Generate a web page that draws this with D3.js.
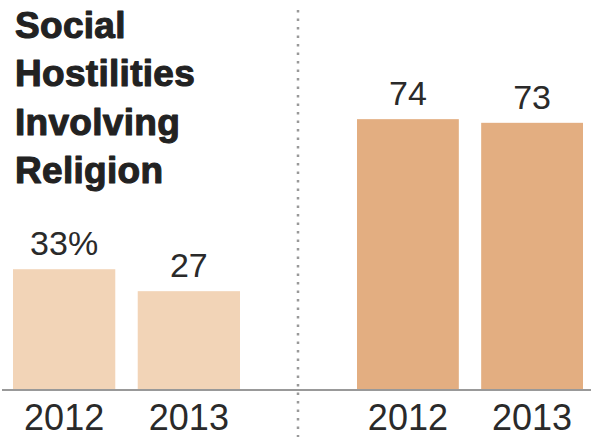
<!DOCTYPE html>
<html>
<head>
<meta charset="utf-8">
<script src="https://cdn.jsdelivr.net/npm/d3@7.9.0/dist/d3.min.js"></script>
<style>
  body { margin: 0; background: #fff; }
  svg { display: block; font-family: "Liberation Sans", Arial, sans-serif; }
</style>
</head>
<body>
<svg id="chart" width="591" height="437"></svg>
<script>
// data
const years = ['2012', '2013'];
const hostilityValues = [33, 27];     // social hostilities involving religion
const populationValues = [74, 73];    // right panel
const titleLines = ['Social', 'Hostilities', 'Involving', 'Religion'];

const width = 591;
const height = 437;
const baseline = 390;

const svg = d3.select('#chart');

// shared y scale for both panels
const y = d3.scaleLinear()
  .domain([0, 100])
  .range([baseline, baseline - 366]);

const xLeft = d3.scaleBand()
  .domain(years)
  .range([13, 240])
  .paddingInner(0.18);

const xRight = d3.scaleBand()
  .domain(years)
  .range([357, 583])
  .paddingInner(0.18);

// title (stroke thickens it toward the heavy gothic face)
const title = svg.append('text')
  .attr('x', 15)
  .attr('y', 38)
  .attr('font-size', 37)
  .attr('font-weight', 'bold')
  .attr('letter-spacing', 0.3)
  .attr('fill', '#222')
  .attr('stroke', '#222')
  .attr('stroke-width', 1.1)
  .attr('stroke-linejoin', 'round');

titleLines.forEach((line, i) => {
  title.append('tspan')
    .attr('x', 15)
    .attr('dy', i === 0 ? 0 : 48.4)
    .text(line);
});

// dotted divider
svg.append('line')
  .attr('x1', 298)
  .attr('x2', 298)
  .attr('y1', 10)
  .attr('y2', height)
  .attr('stroke', '#999')
  .attr('stroke-width', 2.5)
  .attr('stroke-dasharray', '2.5,6');

function drawPanel(x, values, color, suffixFirst) {
  const g = svg.append('g');

  g.selectAll('rect')
    .data(values)
    .join('rect')
    .attr('x', (d, i) => x(years[i]))
    .attr('y', d => y(d))
    .attr('width', x.bandwidth())
    .attr('height', d => y(0) - y(d))
    .attr('fill', color);

  g.selectAll('text.value')
    .data(values)
    .join('text')
    .attr('class', 'value')
    .attr('x', (d, i) => x(years[i]) + x.bandwidth() / 2)
    .attr('y', d => y(d) - 14)
    .attr('text-anchor', 'middle')
    .attr('font-size', 34)
    .attr('fill', '#2a2a2a')
    .text((d, i) => (i === 0 && suffixFirst ? d + '%' : d));

  const axis = g.append('g')
    .attr('transform', `translate(0,${baseline})`)
    .call(d3.axisBottom(x).tickSize(0).tickPadding(14));
  axis.select('.domain').remove();
  axis.selectAll('text')
    .attr('font-size', 36)
    .attr('font-family', '"Liberation Sans", Arial, sans-serif')
    .attr('fill', '#2a2a2a');
}

drawPanel(xLeft, hostilityValues, '#f2d4b7', true);
drawPanel(xRight, populationValues, '#e3ae81', false);

// baseline across both panels
svg.append('line')
  .attr('x1', 2)
  .attr('x2', width)
  .attr('y1', baseline)
  .attr('y2', baseline)
  .attr('stroke', '#999')
  .attr('stroke-width', 2);
</script>
</body>
</html>
